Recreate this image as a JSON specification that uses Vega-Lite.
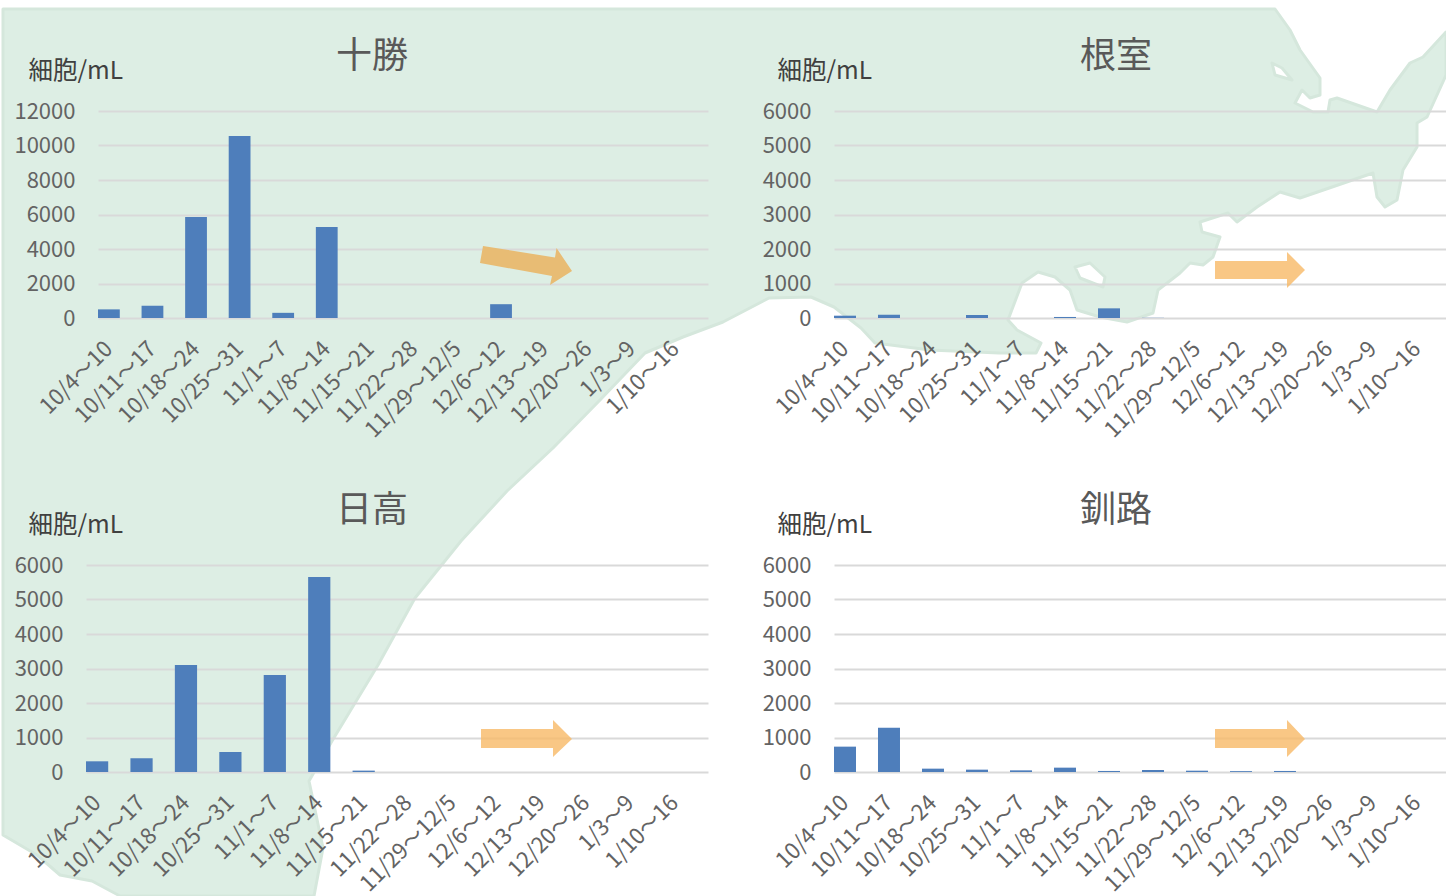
{
"$schema":"https://vega.github.io/schema/vega-lite/v6.json",
"padding":{"left":1,"top":7,"right":0,"bottom":0},
"background":"white",
"bounds":"flush",
"spacing":454,
"config":{"view":{"stroke":null},"font":"Noto Sans CJK JP",
"title":{"font":"Noto Sans CJK JP","fontSize":36,"fontWeight":"normal","color":"#595959"},
"axisX":{"title":null,"domain":false,"ticks":false,"grid":false,"labelAngle":-45,"labelAlign":"right","labelBaseline":"middle","labelPadding":27,"labelFontSize":22,"labelColor":"#636363","labelFont":"Noto Sans CJK JP","labelOverlap":false,"labelFontWeight":400},
"axisY":{"domain":false,"ticks":false,"grid":true,"gridColor":"#D9D9D9","gridWidth":2,"labelPadding":23,"labelFontSize":22,"labelColor":"#636363","labelFont":"Noto Sans CJK JP","labelFontWeight":400,"titleAngle":0,"titleAlign":"left","titleBaseline":"middle","titleFontSize":24.5,"titleColor":"#404040","titleFont":"Noto Sans CJK JP","titleFontWeight":400}},
"datasets":{
"cells":[
{"region":"十勝","week":"10/4〜10","cells":500},{"region":"十勝","week":"10/11〜17","cells":710},{"region":"十勝","week":"10/18〜24","cells":5850},{"region":"十勝","week":"10/25〜31","cells":10550},{"region":"十勝","week":"11/1〜7","cells":300},{"region":"十勝","week":"11/8〜14","cells":5275},{"region":"十勝","week":"12/6〜12","cells":800},
{"region":"根室","week":"10/4〜10","cells":67},{"region":"根室","week":"10/11〜17","cells":96},{"region":"根室","week":"10/25〜31","cells":87},{"region":"根室","week":"11/8〜14","cells":30},{"region":"根室","week":"11/15〜21","cells":280},{"region":"根室","week":"11/22〜28","cells":5},
{"region":"日高","week":"10/4〜10","cells":310},{"region":"日高","week":"10/11〜17","cells":400},{"region":"日高","week":"10/18〜24","cells":3100},{"region":"日高","week":"10/25〜31","cells":580},{"region":"日高","week":"11/1〜7","cells":2810},{"region":"日高","week":"11/8〜14","cells":5650},{"region":"日高","week":"11/15〜21","cells":40},
{"region":"釧路","week":"10/4〜10","cells":735},{"region":"釧路","week":"10/11〜17","cells":1280},{"region":"釧路","week":"10/18〜24","cells":97},{"region":"釧路","week":"10/25〜31","cells":68},{"region":"釧路","week":"11/1〜7","cells":48},{"region":"釧路","week":"11/8〜14","cells":126},{"region":"釧路","week":"11/15〜21","cells":30},{"region":"釧路","week":"11/22〜28","cells":58},{"region":"釧路","week":"11/29〜12/5","cells":38},{"region":"釧路","week":"12/6〜12","cells":25},{"region":"釧路","week":"12/13〜19","cells":30}
]},
"vconcat":[
{"bounds":"flush","spacing":748,"hconcat":[
{"bounds":"flush","spacing":11,"hconcat":[
{"width":1,"height":207,"data":{"values":[{"type":"Feature","properties":{"name":"land"},"geometry":{"type":"Polygon","coordinates":[
[[3,9],[1275,9],[1290,30],[1300,50],[1320,78],[1320,95],[1310,98],[1302,90],[1295,103],[1313,112],[1328,112],[1330,100],[1337,98],[1377,112],[1390,90],[1410,63],[1423,57],[1446,32],[1446,75],[1427,117],[1417,123],[1417,147],[1403,170],[1397,200],[1385,207],[1377,197],[1373,173],[1300,198],[1280,192],[1257,207],[1237,222],[1228,213],[1200,222],[1202,232],[1220,237],[1213,257],[1203,265],[1190,263],[1180,273],[1158,290],[1153,313],[1127,322],[1100,317],[1077,310],[1070,290],[1055,277],[1038,272],[1022,283],[1008,320],[1017,330],[1041,343],[1036,353],[999,353],[930,350],[875,343],[861,328],[834,307],[811,297],[769,298],[723,322],[683,337],[645,353],[600,400],[553,448],[507,491],[461,541],[415,598],[378,665],[332,741],[309,781],[323,848],[314,896],[120,896],[92,881],[60,875],[37,855],[3,835],[3,9]],
[[1272,63],[1275,75],[1292,80],[1282,68],[1272,63]],
[[1075,267],[1080,278],[1103,287],[1105,277],[1090,263],[1075,267]]
]}}]},
"mark":{"type":"geoshape","fill":"#DDEEE4","stroke":"#D5E7DC","strokeWidth":3,"strokeJoin":"round","clip":false},"encoding":{},
"projection":{"type":"identity","scale":1,"translate":[-86,-111]}},
{"width":610,"height":207,"title":{"text":"十勝","anchor":"middle","dx":-31,"offset":-18},
"layer":[
{"data":{"name":"cells"},"transform":[{"filter":"datum.region==='十勝'"}],"mark":{"type":"bar","color":"#4E7EBB"},
"encoding":{"x":{"field":"week","type":"nominal","scale":{"domain":["10/4〜10","10/11〜17","10/18〜24","10/25〜31","11/1〜7","11/8〜14","11/15〜21","11/22〜28","11/29〜12/5","12/6〜12","12/13〜19","12/20〜26","1/3〜9","1/10〜16"],"paddingInner":0.5,"paddingOuter":0.25,"align":0},"axis":{}},
"y":{"field":"cells","type":"quantitative","scale":{"domain":[0,12000],"nice":false},"axis":{"values":[0,2000,4000,6000,8000,10000,12000],"format":"d","title":"細胞/mL","titleX":-70,"titleY":-40}}}},
{"data":{"values":[{"type":"Feature","properties":{"name":"arrow"},"geometry":{"type":"Polygon","coordinates":[[[471,246],[543,257.5],[544.5,248],[560,271],[538,285],[540,276],[468,263],[471,246]]]}}]},
"mark":{"type":"geoshape","fill":"#E8BC74","stroke":null,"clip":false},"encoding":{},
"projection":{"type":"identity","scale":1,"translate":[-86,-111]}}
]}
]},
{"width":612,"height":207,"title":{"text":"根室","anchor":"middle","dx":-24,"offset":-18},
"layer":[
{"data":{"name":"cells"},"transform":[{"filter":"datum.region==='根室'"}],"mark":{"type":"bar","color":"#4E7EBB"},
"encoding":{"x":{"field":"week","type":"nominal","scale":{"domain":["10/4〜10","10/11〜17","10/18〜24","10/25〜31","11/1〜7","11/8〜14","11/15〜21","11/22〜28","11/29〜12/5","12/6〜12","12/13〜19","12/20〜26","1/3〜9","1/10〜16"],"paddingInner":0.5,"paddingOuter":0.205,"align":0},"axis":{}},
"y":{"field":"cells","type":"quantitative","scale":{"domain":[0,6000],"nice":false},"axis":{"values":[0,1000,2000,3000,4000,5000,6000],"format":"d","title":"細胞/mL","titleX":-57,"titleY":-40}}}},
{"data":{"values":[{"type":"Feature","properties":{"name":"arrow"},"geometry":{"type":"Polygon","coordinates":[[[467,261],[539,261],[539,252],[557,270],[539,288],[539,279],[467,279],[467,261]]]}}]},
"mark":{"type":"geoshape","fill":"#F7B967","fillOpacity":0.8,"stroke":null,"clip":false},"encoding":{},
"projection":{"type":"identity","scale":1,"translate":[-86,-111]}}
]}
]},
{"bounds":"flush","spacing":126,"hconcat":[
{"width":622,"height":207,"title":{"text":"日高","anchor":"middle","dx":-25,"offset":-18},
"layer":[
{"data":{"name":"cells"},"transform":[{"filter":"datum.region==='日高'"}],"mark":{"type":"bar","color":"#4E7EBB"},
"encoding":{"x":{"field":"week","type":"nominal","scale":{"domain":["10/4〜10","10/11〜17","10/18〜24","10/25〜31","11/1〜7","11/8〜14","11/15〜21","11/22〜28","11/29〜12/5","12/6〜12","12/13〜19","12/20〜26","1/3〜9","1/10〜16"],"paddingInner":0.5,"paddingOuter":0.25,"align":0},"axis":{}},
"y":{"field":"cells","type":"quantitative","scale":{"domain":[0,6000],"nice":false},"axis":{"values":[0,1000,2000,3000,4000,5000,6000],"format":"d","title":"細胞/mL","titleX":-58,"titleY":-40}}}},
{"data":{"values":[{"type":"Feature","properties":{"name":"arrow"},"geometry":{"type":"Polygon","coordinates":[[[481,275],[553,275],[553,266],[572,285],[553,303],[553,294],[481,294],[481,275]]]}}]},
"mark":{"type":"geoshape","fill":"#F7B967","fillOpacity":0.8,"stroke":null,"clip":false},"encoding":{},
"projection":{"type":"identity","scale":1,"translate":[-86,-111]}}
]},
{"width":612,"height":207,"title":{"text":"釧路","anchor":"middle","dx":-24,"offset":-18},
"layer":[
{"data":{"name":"cells"},"transform":[{"filter":"datum.region==='釧路'"}],"mark":{"type":"bar","color":"#4E7EBB"},
"encoding":{"x":{"field":"week","type":"nominal","scale":{"domain":["10/4〜10","10/11〜17","10/18〜24","10/25〜31","11/1〜7","11/8〜14","11/15〜21","11/22〜28","11/29〜12/5","12/6〜12","12/13〜19","12/20〜26","1/3〜9","1/10〜16"],"paddingInner":0.5,"paddingOuter":0.205,"align":0},"axis":{}},
"y":{"field":"cells","type":"quantitative","scale":{"domain":[0,6000],"nice":false},"axis":{"values":[0,1000,2000,3000,4000,5000,6000],"format":"d","title":"細胞/mL","titleX":-57,"titleY":-40}}}},
{"data":{"values":[{"type":"Feature","properties":{"name":"arrow"},"geometry":{"type":"Polygon","coordinates":[[[467,275],[539,275],[539,266],[557,285],[539,303],[539,294],[467,294],[467,275]]]}}]},
"mark":{"type":"geoshape","fill":"#F7B967","fillOpacity":0.8,"stroke":null,"clip":false},"encoding":{},
"projection":{"type":"identity","scale":1,"translate":[-86,-111]}}
]}
]}
]
}
